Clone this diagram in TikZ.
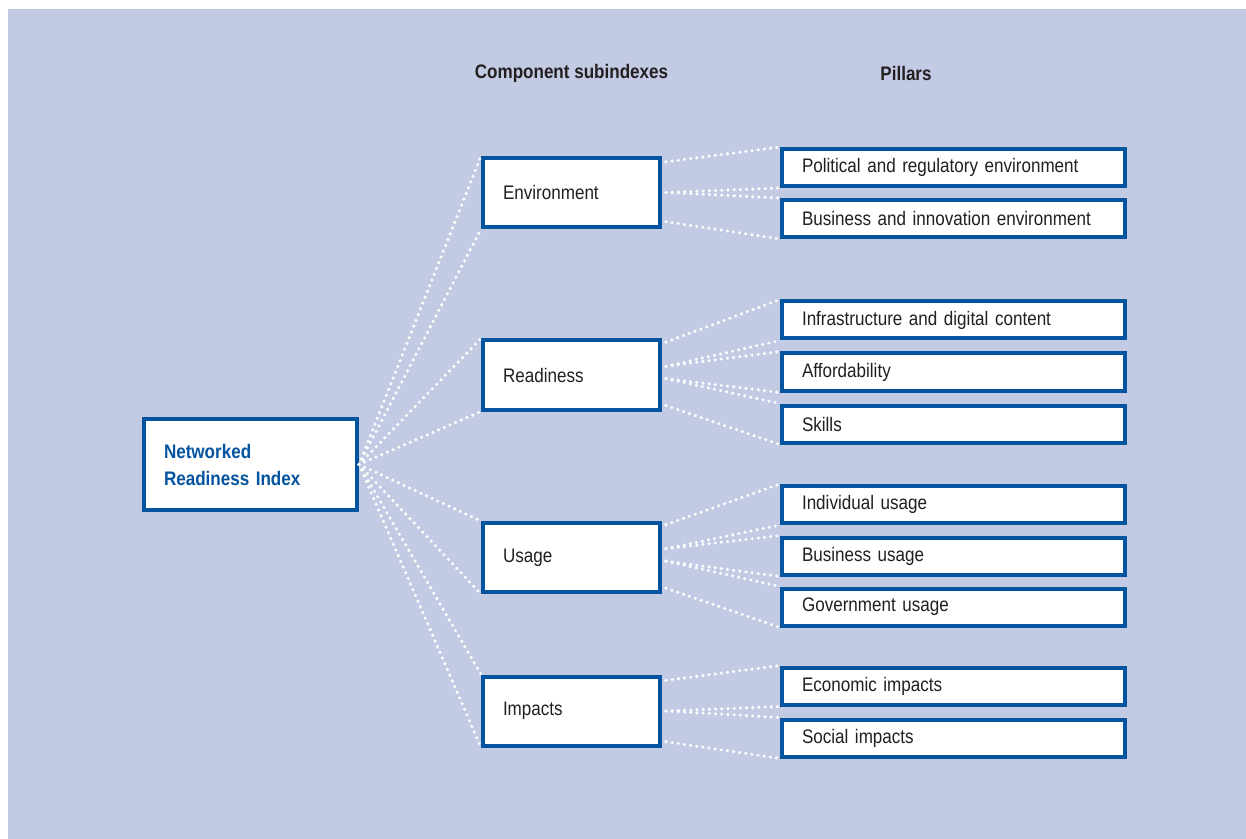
\documentclass[tikz,border=0pt]{standalone}
\usepackage{fontspec}
\setmainfont[FakeStretch=0.87]{Liberation Sans}
\usepackage{tikz}
\usetikzlibrary{calc}
\definecolor{nriblue}{RGB}{4,84,160}
\definecolor{nribg}{RGB}{195,203,228}
\definecolor{nritext}{RGB}{35,31,32}

\begin{document}
\begin{tikzpicture}[x=0.5pt, y=-0.5pt,
	every node/.style={font=\fontsize{9.8}{13.5}\selectfont, text=nritext},
	box/.style={rectangle, draw=nriblue, fill=white, line width=2pt, align=left, inner ysep=0pt},
	pillar/.style={box, text width=151.5pt, inner xsep=10pt, minimum height=18.5pt},
	sub/.style={box, text width=68.5pt, inner xsep=10pt, minimum height=34.5pt},
	head/.style={font=\fontsize{9.8}{12}\selectfont\bfseries},
	link/.style={draw=white, line width=1.7pt, line cap=round, dash pattern=on 0pt off 3.1pt}]
			\useasboundingbox (0,0) rectangle (1246,839);
			\fill[nribg] (8,9) rectangle (1246,839);
			
			\node[head] (hsub) at (571.5,73.5) {Component subindexes};
			\node[head] (hpil) at (906,73.5) {Pillars};
			
			\node[box, text width=86.5pt, inner xsep=10pt, minimum height=45.5pt, text=nriblue, font=\fontsize{9.8}{13.5}\selectfont\bfseries] (nri) at (250.5,464.5) {Networked\\Readiness Index};
			
			\node[sub] (env) at (571.5,192.5) {Environment};
			\node[sub] (rea) at (571.5,375) {Readiness};
			\node[sub] (usa) at (571.5,557.5) {Usage};
			\node[sub] (imp) at (571.5,711) {Impacts};
			
			\node[pillar] (pol) at (953.5,167.5) {Political and regulatory environment};
			\node[pillar] (bie) at (953.5,218.5) {Business and innovation environment};
			\node[pillar] (inf) at (953.5,320) {Infrastructure and digital content};
			\node[pillar] (aff) at (953.5,372) {Affordability};
			\node[pillar] (ski) at (953.5,424) {Skills};
			\node[pillar] (ind) at (953.5,504.5) {Individual usage};
			\node[pillar] (bus) at (953.5,556) {Business usage};
			\node[pillar] (gov) at (953.5,607) {Government usage};
			\node[pillar] (eco) at (953.5,686) {Economic impacts};
			\node[pillar] (soc) at (953.5,738) {Social impacts};
			
			\coordinate (env1) at ($(env.north east)!0.08!(env.south east)+(4,0)$);
			\coordinate (env2) at ($(env.north east)!0.5!(env.south east)+(4,0)$);
			\coordinate (env3) at ($(env.north east)!0.9!(env.south east)+(4,0)$);
			\coordinate (rea1) at ($(rea.north east)!0.05!(rea.south east)+(4,0)$);
			\coordinate (rea2) at ($(rea.north east)!0.38!(rea.south east)+(4,0)$);
			\coordinate (rea3) at ($(rea.north east)!0.55!(rea.south east)+(4,0)$);
			\coordinate (rea4) at ($(rea.north east)!0.92!(rea.south east)+(4,0)$);
			\coordinate (usa1) at ($(usa.north east)!0.05!(usa.south east)+(4,0)$);
			\coordinate (usa2) at ($(usa.north east)!0.38!(usa.south east)+(4,0)$);
			\coordinate (usa3) at ($(usa.north east)!0.55!(usa.south east)+(4,0)$);
			\coordinate (usa4) at ($(usa.north east)!0.92!(usa.south east)+(4,0)$);
			\coordinate (imp1) at ($(imp.north east)!0.08!(imp.south east)+(4,0)$);
			\coordinate (imp2) at ($(imp.north east)!0.5!(imp.south east)+(4,0)$);
			\coordinate (imp3) at ($(imp.north east)!0.92!(imp.south east)+(4,0)$);
			
			\path[link] (nri.east) edge (env.north west);
			\path[link] (nri.east) edge (env.south west);
			\path[link] (nri.east) edge (rea.north west);
			\path[link] (nri.east) edge (rea.south west);
			\path[link] (nri.east) edge (usa.north west);
			\path[link] (nri.east) edge (usa.south west);
			\path[link] (nri.east) edge (imp.north west);
			\path[link] (nri.east) edge (imp.south west);
			
			\path[link] (env1) edge (pol.north west);
			\path[link] (env2) edge (pol.south west);
			\path[link] (env2) edge (bie.north west);
			\path[link] (env3) edge (bie.south west);
			
			\path[link] (rea1) edge (inf.north west);
			\path[link] (rea2) edge (inf.south west);
			\path[link] (rea2) edge (aff.north west);
			\path[link] (rea3) edge (aff.south west);
			\path[link] (rea3) edge (ski.north west);
			\path[link] (rea4) edge (ski.south west);
			
			\path[link] (usa1) edge (ind.north west);
			\path[link] (usa2) edge (ind.south west);
			\path[link] (usa2) edge (bus.north west);
			\path[link] (usa3) edge (bus.south west);
			\path[link] (usa3) edge (gov.north west);
			\path[link] (usa4) edge (gov.south west);
			
			\path[link] (imp1) edge (eco.north west);
			\path[link] (imp2) edge (eco.south west);
			\path[link] (imp2) edge (soc.north west);
			\path[link] (imp3) edge (soc.south west);
			\end{tikzpicture}
\end{document}
